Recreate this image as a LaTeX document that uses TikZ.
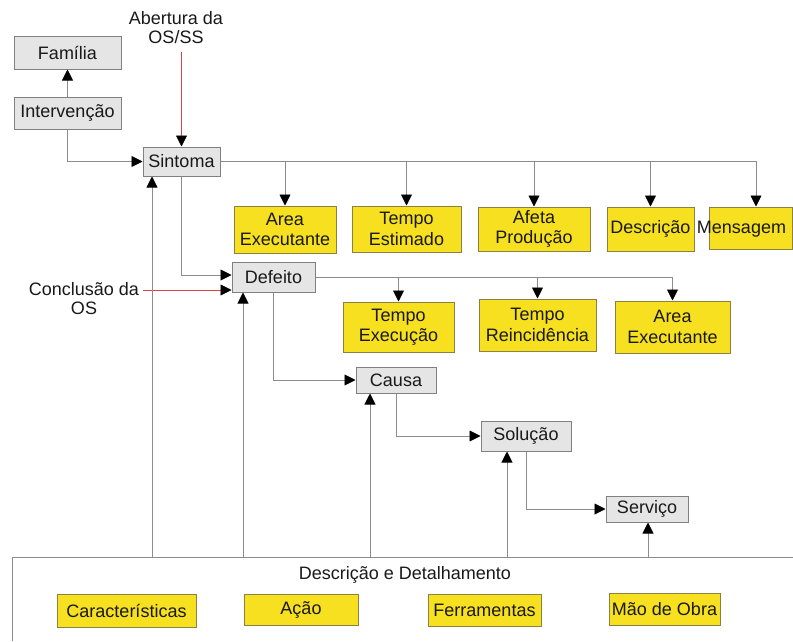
\documentclass[tikz,border=0pt]{standalone}
\usepackage{fontspec}
\setmainfont{Liberation Sans}
\usetikzlibrary{arrows.meta}
\definecolor{boxgray}{RGB}{229,229,229}
\definecolor{edgegray}{RGB}{128,128,128}
\definecolor{wiregray}{RGB}{140,140,140}
\definecolor{boxyellow}{RGB}{247,224,32}
\definecolor{edgeyellow}{RGB}{140,128,70}
\definecolor{wirered}{RGB}{215,70,70}
\definecolor{ink}{RGB}{25,25,25}
\tikzset{
  base/.style={font=\fontsize{18pt}{20.5pt}\selectfont, text=ink, align=center, inner sep=0pt, line width=1pt},
  gbox/.style={base, draw=edgegray, fill=boxgray},
  ybox/.style={base, draw=edgeyellow, fill=boxyellow},
  lbl/.style={font=\fontsize{18pt}{19pt}\selectfont, text=ink, align=center, inner sep=0pt},
  wire/.style={draw=wiregray, line width=0.9pt},
  arr/.style={wire, -{Triangle[length=11pt,width=11pt,color=black]}},
  redarr/.style={draw=wirered, line width=0.8pt, -{Triangle[length=11pt,width=11pt,color=black]}}
}
\begin{document}
\begin{tikzpicture}[x=1pt,y=-1pt]
\useasboundingbox (0,0) rectangle (793,641);

% upper chain
\node[gbox, minimum width=107pt, minimum height=33pt] (fam) at (67.5,52.5) {Família};
\node[gbox, minimum width=107pt, minimum height=32pt] (int) at (67.5,113) {Intervenção};
\node[gbox, minimum width=77pt, minimum height=29pt] (sint) at (181.5,161.5) {Sintoma};
\node[lbl] (abert) at (176,28) {Abertura da\\OS/SS};
\coordinate (abertEnd) at (181.5,52);

% attributes of Sintoma
\node[ybox, minimum width=102pt, minimum height=47pt] (a1) at (285,229.5) {Area\\Executante};
\node[ybox, minimum width=109pt, minimum height=46pt] (a2) at (406.5,229) {Tempo\\Estimado};
\node[ybox, minimum width=112pt, minimum height=44pt] (a3) at (534,229) {Afeta\\Produção};
\node[ybox, minimum width=87pt, minimum height=44pt] (a4) at (650.5,229) {Descrição};
\node[ybox, minimum width=83pt, minimum height=42pt] (a5) at (750.5,228) {};
\node[lbl] (a5t) at (741.5,229) {Mensagem};

% Defeito and its attributes
\node[gbox, minimum width=83pt, minimum height=30pt] (def) at (273.5,277) {Defeito};
\node[lbl] (conc) at (84,299) {Conclusão da\\OS};
\coordinate (concEnd) at (143,290);
\node[ybox, minimum width=111pt, minimum height=50pt] (b1) at (398.5,327) {Tempo\\Execução};
\node[ybox, minimum width=117pt, minimum height=52pt] (b2) at (537.5,325) {Tempo\\Reincidência};
\node[ybox, minimum width=115pt, minimum height=52pt] (b3) at (672.5,327) {Area\\Executante};

% lower chain
\node[gbox, minimum width=80pt, minimum height=26pt] (causa) at (396,380) {Causa};
\node[gbox, minimum width=90pt, minimum height=30pt] (sol) at (526,436) {Solução};
\node[gbox, minimum width=82pt, minimum height=26pt] (serv) at (647,509) {Serviço};

% detail panel
\draw[wire] (12,641) -- (12,557) -- (793,557);
\node[lbl] (det) at (405,575) {Descrição e Detalhamento};
\node[ybox, minimum width=139pt, minimum height=33pt] (c1) at (126.5,610.5) {Características};
\node[ybox, minimum width=114pt, minimum height=31pt] (c2) at (301,609.5) {Ação};
\node[ybox, minimum width=113pt, minimum height=32pt] (c3) at (484.5,610) {Ferramentas};
\node[ybox, minimum width=111pt, minimum height=32pt] (c4) at (664.5,609) {Mão de Obra};
\coordinate (p1) at (152,557);
\coordinate (p2) at (243,557);
\coordinate (p3) at (370,557);
\coordinate (p4) at (507,557);
\coordinate (p5) at (648,557);

% connectors
\draw[arr] (int) -- (fam);
\draw[arr] (int.south) |- (sint.west);
\draw[redarr] (abertEnd) -- (sint.north);
\draw[arr] (sint.east) -| (a1.north);
\draw[arr] (sint.east) -| (a2.north);
\draw[arr] (sint.east) -| (a3.north);
\draw[arr] (sint.east) -| (a4.north);
\draw[arr] (sint.east) -| ([xshift=5.5pt]a5.north);
\draw[arr] (sint.south) |- ([yshift=2pt]def.west);
\draw[redarr] (concEnd) -- ([yshift=-13pt]def.west);
\draw[arr] (def.east) -| (b1.north);
\draw[arr] (def.east) -| (b2.north);
\draw[arr] (def.east) -| (b3.north);
\draw[arr] (def.south) |- (causa.west);
\draw[arr] (causa.south) |- (sol.west);
\draw[arr] (sol.south) |- (serv.west);
\draw[arr] (p1) -- (p1 |- sint.south);
\draw[arr] (p2) -- (p2 |- def.south);
\draw[arr] (p3) -- (p3 |- causa.south);
\draw[arr] (p4) -- (p4 |- sol.south);
\draw[arr] (p5) -- (p5 |- serv.south);
\end{tikzpicture}
\end{document}
